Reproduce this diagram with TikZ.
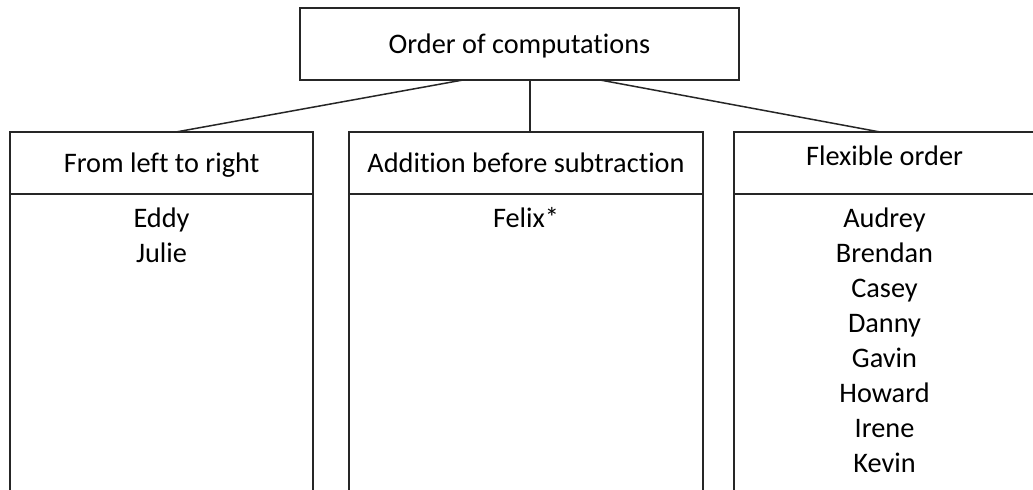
\documentclass[tikz,border=0pt]{standalone}
\usepackage{fontspec}
\setmainfont{Carlito}[Ligatures=CommonOff]
\usetikzlibrary{positioning}

\begin{document}
\begin{tikzpicture}[x=0.5pt, y=-0.5pt, line width=0.75pt, black!85,
  every node/.style={font=\fontsize{14.15}{17.45}\selectfont, text=black},
  box/.style={draw, rectangle, inner sep=0pt, outer sep=0pt, text height=10pt, text depth=0pt},
  item/.style={anchor=base, inner sep=0pt}]

% page frame
\useasboundingbox (0,0) rectangle (1033,490);
\clip (0,0) rectangle (1033,490);

% Root
\node[box, minimum width=219.5pt, minimum height=36pt] (order) at (519.5,44) {Order of computations};

% Column headers
\node[box, minimum width=151.5pt, minimum height=31pt] (ltr) at (161.5,163) {From left to right};
\node[box, minimum width=177pt, minimum height=31pt] (addsub) at (526,163) {Addition before subtraction};
\node[box, minimum width=150.5pt, minimum height=31pt, text height=3pt] (flex) at (884.5,163) {Flexible order};

% Column bodies (run off the bottom)
\node[box, minimum width=151.5pt, minimum height=158pt, anchor=north] (ltr-body) at (ltr.south) {};
\node[box, minimum width=177pt, minimum height=158pt, anchor=north] (addsub-body) at (addsub.south) {};
\node[box, minimum width=150.5pt, minimum height=158pt, anchor=north] (flex-body) at (flex.south) {};

% Names in each column
\foreach \who [count=\i from 0] in {Eddy, Julie}
  \node[item] (ltr-\i) at (161.5, 228+34.9*\i) {\who};
\node[item] (addsub-0) at (526,228) {Felix*};
\foreach \who [count=\i from 0] in {Audrey, Brendan, Casey, Danny, Gavin, Howard, Irene, Kevin}
  \node[item] (flex-\i) at (884.5, 228+34.9*\i) {\who};

% Branches from the root
\draw ([xshift=-28.25pt]order.south) -- ([xshift=7.25pt]ltr.north);
\draw ([xshift=5.25pt]order.south) -- ([xshift=2pt]addsub.north);
\draw ([xshift=40.25pt]order.south) -- ([xshift=-2.25pt]flex.north);

\end{tikzpicture}
\end{document}
